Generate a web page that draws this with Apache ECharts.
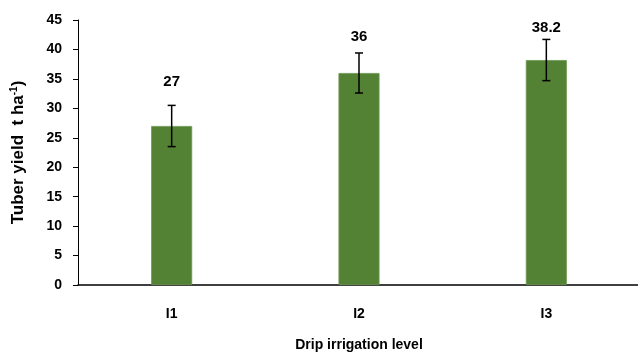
<!DOCTYPE html>
<html>
<head>
<meta charset="utf-8">
<script src="https://cdn.jsdelivr.net/npm/echarts@6/dist/echarts.min.js"></script>
<style>
  html, body { margin: 0; padding: 0; background: #fff; }
  #chart { width: 638px; height: 352px; }
</style>
</head>
<body>
<div id="chart"></div>
<script>
// Drip irrigation levels and mean tuber yield (t/ha) with error margins
const categories = ['I1', 'I2', 'I3'];
const yieldValues = [27, 36, 38.2];
const errorValues = [3.5, 3.4, 3.5];
// gap between the bar top and the value label, per bar
const labelGaps = [37, 29, 25];

const FONT = '"Liberation Sans", Arial, sans-serif';
const chart = echarts.init(document.getElementById('chart'), null, { renderer: 'canvas' });

chart.setOption({
  animation: false,
  backgroundColor: '#ffffff',
  grid: { left: 78, top: 20, width: 562, height: 265, containLabel: false, outerBoundsMode: 'none' },
  xAxis: {
    type: 'category',
    data: categories,
    name: 'Drip irrigation level',
    nameLocation: 'middle',
    nameGap: 53,
    nameTextStyle: { fontFamily: FONT, fontWeight: 'bold', fontSize: 14, color: '#000' },
    axisLine: { show: true, lineStyle: { color: '#000', width: 1.5 } },
    axisTick: { show: false },
    axisLabel: { fontFamily: FONT, fontWeight: 'bold', fontSize: 14, color: '#000', margin: 22 }
  },
  yAxis: {
    type: 'value',
    min: 0,
    max: 45,
    interval: 5,
    name: 'Tuber yield  t ha{sup|-1})',
    nameLocation: 'middle',
    nameGap: 51,
    nameRotate: 90,
    nameTextStyle: {
      fontFamily: FONT, fontWeight: 'bold', fontSize: 17, color: '#000',
      rich: { sup: { fontFamily: FONT, fontWeight: 'bold', fontSize: 10, color: '#000', verticalAlign: 'top', padding: [0, 0, 8, 0] } }
    },
    axisLine: { show: true, lineStyle: { color: '#000', width: 1 } },
    axisTick: { show: true, inside: false, length: 5, lineStyle: { color: '#000' } },
    splitLine: { show: false },
    axisLabel: { fontFamily: FONT, fontWeight: 'bold', fontSize: 14, color: '#000', margin: 16 }
  },
  series: [
    {
      type: 'bar',
      barWidth: 41,
      data: yieldValues.map((v, i) => ({
        value: v,
        label: { distance: labelGaps[i] }
      })),
      itemStyle: { color: '#548235', borderColor: '#6b9650', borderWidth: 0.8 },
      label: {
        show: true,
        position: 'top',
        fontFamily: FONT,
        fontWeight: 'bold',
        fontSize: 15,
        color: '#000'
      },
      z: 2
    },
    {
      type: 'custom',
      z: 5,
      data: yieldValues.map((v, i) => [i, v - errorValues[i], v + errorValues[i]]),
      renderItem: function (params, api) {
        const x = api.value(0);
        const lo = api.coord([x, api.value(1)]);
        const hi = api.coord([x, api.value(2)]);
        const half = 4;
        const style = { stroke: '#000', lineWidth: 1.5 };
        return {
          type: 'group',
          children: [
            { type: 'line', shape: { x1: hi[0], y1: hi[1], x2: lo[0], y2: lo[1] }, style: style },
            { type: 'line', shape: { x1: hi[0] - half, y1: hi[1], x2: hi[0] + half, y2: hi[1] }, style: style },
            { type: 'line', shape: { x1: lo[0] - half, y1: lo[1], x2: lo[0] + half, y2: lo[1] }, style: style }
          ]
        };
      }
    }
  ]
});
</script>
</body>
</html>
